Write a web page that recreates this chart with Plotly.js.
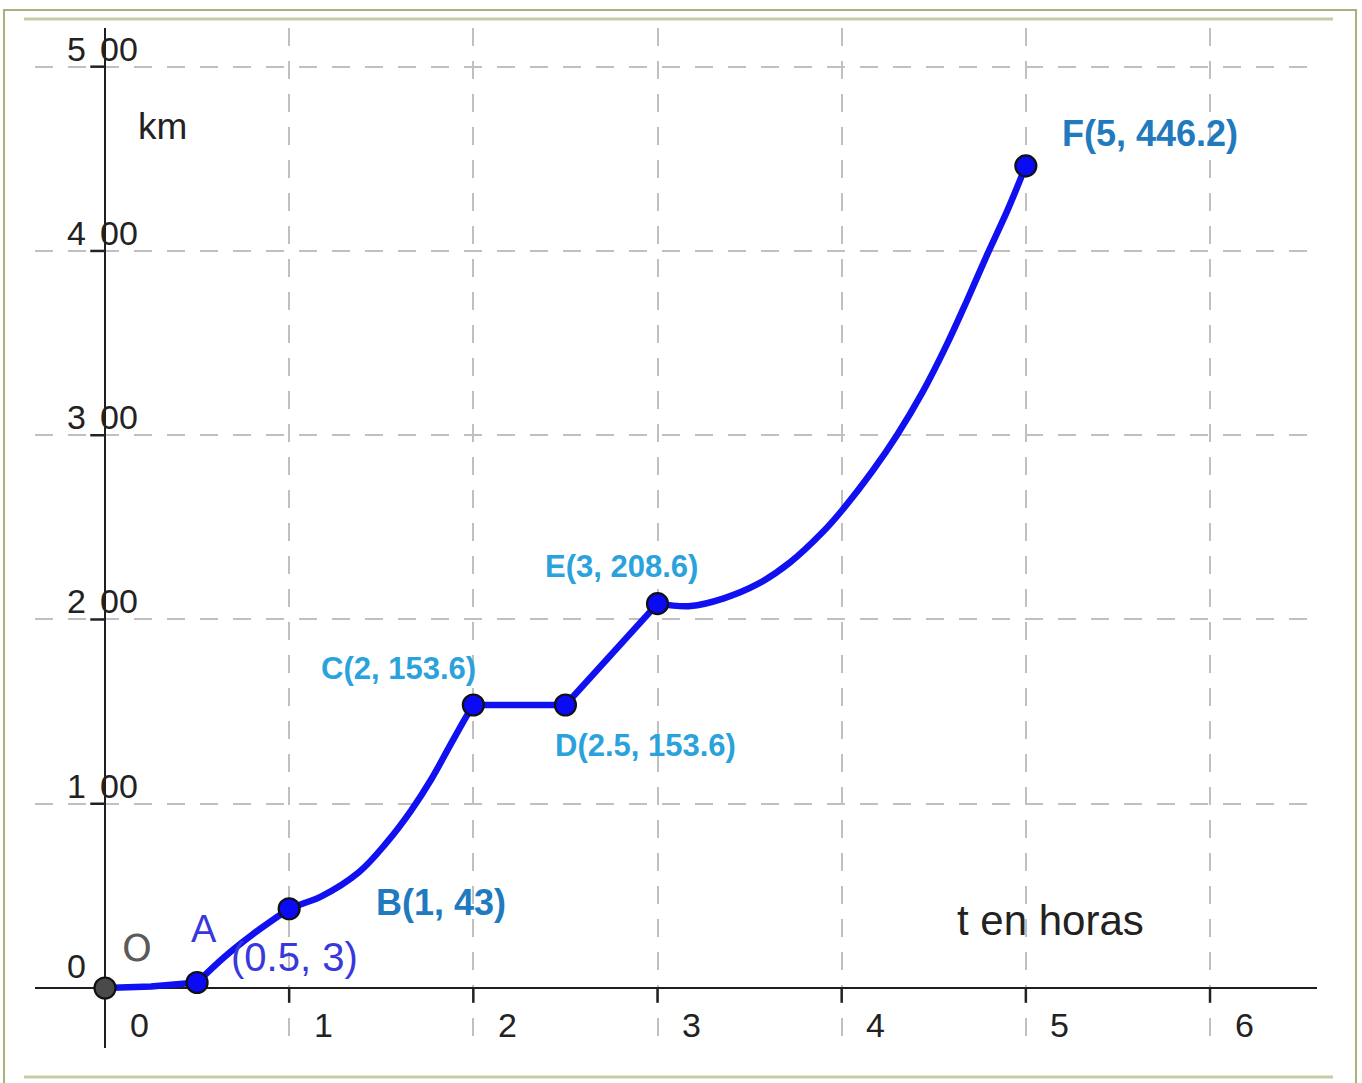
<!DOCTYPE html>
<html>
<head>
<meta charset="utf-8">
<script src="https://cdn.plot.ly/plotly-3.0.1.min.js"></script>
<style>
  html, body { margin: 0; padding: 0; background: #ffffff; }
  #chart { width: 1362px; height: 1083px; }
</style>
</head>
<body>
<div id="chart"></div>
<script>
// ---------- data ----------
const xTicks = [0, 1, 2, 3, 4, 5, 6];
const xTickLabels = ['0', '1', '2', '3', '4', '5', '6'];
const yTicks = [100, 200, 300, 400, 500];
const yTickLead = ['1', '2', '3', '4', '5'];
const yTickTail = ['00', '00', '00', '00', '00'];

// curve segments
const segOA_x = [0, 0.25, 0.5];
const segOA_y = [0, 0.8, 3];
const segAB_x = [0.5, 0.65, 0.8, 1];
const segAB_y = [3, 17, 29, 43];
const segBC_x = [1, 1.08, 1.17, 1.38, 1.53, 1.66, 1.77, 1.87, 1.96, 2];
const segBC_y = [43, 46, 49.5, 63, 79, 96, 113, 131, 147, 153.6];
const segCD_x = [2, 2.5];
const segCD_y = [153.6, 153.6];
const segDE_x = [2.5, 3];
const segDE_y = [153.6, 208.6];
const segEF_x = [3, 3.18, 3.36, 3.54, 3.72, 3.9, 4.0, 4.17, 4.3, 4.44, 4.57, 4.68, 4.79, 4.9, 5];
const segEF_y = [208.6, 207.3, 211.5, 219, 231, 247.7, 259, 281, 300, 323.5, 349, 373, 398, 422, 446.2];

// named points
const ptNames = ['O', 'A', 'B', 'C', 'D', 'E', 'F'];
const ptX = [0, 0.5, 1, 2, 2.5, 3, 5];
const ptY = [0, 3, 43, 153.6, 153.6, 208.6, 446.2];

const xAxisTitle = 't en horas';
const yAxisTitle = 'km';

// ---------- styling ----------
const lineColor = '#1010f0';
const FONT = '"Liberation Sans", Arial, sans-serif';

const segs = [
  [segOA_x, segOA_y, 'linear'],
  [segAB_x, segAB_y, 'spline'],
  [segBC_x, segBC_y, 'spline'],
  [segCD_x, segCD_y, 'linear'],
  [segDE_x, segDE_y, 'linear'],
  [segEF_x, segEF_y, 'spline']
];

const traces = segs.map(s => ({
  type: 'scatter', mode: 'lines', x: s[0], y: s[1],
  line: { color: lineColor, width: 6.5, shape: s[2], smoothing: 1 },
  hoverinfo: 'skip', showlegend: false, cliponaxis: false
}));

traces.push({
  type: 'scatter', mode: 'markers', x: ptX, y: ptY,
  marker: {
    size: 21,
    color: ptNames.map(n => n === 'O' ? '#4a4a4a' : '#0a0af5'),
    line: { color: '#111111', width: 2.2 }
  },
  showlegend: false, cliponaxis: false, hoverinfo: 'skip'
});

// ---------- annotations ----------
const ann = [];
// x tick labels
xTicks.forEach((v, i) => {
  ann.push({ xref: 'x', yref: 'y', x: v, y: 0, text: xTickLabels[i], showarrow: false,
    xanchor: 'center', yanchor: 'middle', xshift: 34, yshift: -37,
    font: { family: FONT, size: 34, color: '#222222' } });
});
// y tick labels (axis line runs through them)
yTicks.forEach((v, i) => {
  ann.push({ xref: 'x', yref: 'y', x: 0, y: v, text: yTickLead[i], showarrow: false,
    xanchor: 'right', yanchor: 'middle', xshift: -17, yshift: 18,
    font: { family: FONT, size: 34, color: '#222222' } });
  ann.push({ xref: 'x', yref: 'y', x: 0, y: v, text: yTickTail[i], showarrow: false,
    xanchor: 'left', yanchor: 'middle', xshift: -7, yshift: 18,
    font: { family: FONT, size: 34, color: '#222222' } });
});
ann.push({ xref: 'x', yref: 'y', x: 0, y: 0, text: '0', showarrow: false,
  xanchor: 'center', yanchor: 'middle', xshift: -29, yshift: 22,
  font: { family: FONT, size: 34, color: '#222222' } });

// axis titles
ann.push({ xref: 'x', yref: 'y', x: 0, y: 500, text: yAxisTitle, showarrow: false,
  xanchor: 'center', yanchor: 'middle', xshift: 57, yshift: -60,
  font: { family: FONT, size: 37, color: '#222222' } });
ann.push({ xref: 'x', yref: 'y', x: 5, y: 0, text: xAxisTitle, showarrow: false,
  xanchor: 'center', yanchor: 'middle', xshift: 25, yshift: 68,
  font: { family: FONT, size: 42, color: '#222222' } });

// point labels
const dark = '#2179be', cyan = '#2aa2dc', violet = '#3838dc';
const lab = (i) => ptNames[i] + '(' + ptX[i] + ', ' + ptY[i] + ')';
ann.push({ xref: 'x', yref: 'y', x: ptX[0], y: ptY[0], text: ptNames[0], showarrow: false,
  xshift: 32, yshift: 40, font: { family: '"DejaVu Sans", sans-serif', size: 38, color: '#5a5a5a' } });
ann.push({ xref: 'x', yref: 'y', x: ptX[1], y: ptY[1], text: ptNames[1], showarrow: false,
  xshift: 7, yshift: 53, font: { family: FONT, size: 38, color: violet } });
ann.push({ xref: 'x', yref: 'y', x: ptX[1], y: ptY[1], text: '(' + ptX[1] + ', ' + ptY[1] + ')', showarrow: false,
  xshift: 97, yshift: 25, font: { family: FONT, size: 40, color: violet } });
ann.push({ xref: 'x', yref: 'y', x: ptX[2], y: ptY[2], text: '<b>' + lab(2) + '</b>', showarrow: false,
  xshift: 152, yshift: 6, font: { family: FONT, size: 36, color: dark } });
ann.push({ xref: 'x', yref: 'y', x: ptX[3], y: ptY[3], text: '<b>' + lab(3) + '</b>', showarrow: false,
  xshift: -75, yshift: 36, font: { family: FONT, size: 31, color: cyan } });
ann.push({ xref: 'x', yref: 'y', x: ptX[4], y: ptY[4], text: '<b>' + lab(4) + '</b>', showarrow: false,
  xshift: 80, yshift: -41, font: { family: FONT, size: 31, color: cyan } });
ann.push({ xref: 'x', yref: 'y', x: ptX[5], y: ptY[5], text: '<b>' + lab(5) + '</b>', showarrow: false,
  xshift: -36, yshift: 37, font: { family: FONT, size: 31, color: cyan } });
ann.push({ xref: 'x', yref: 'y', x: ptX[6], y: ptY[6], text: '<b>' + lab(6) + '</b>', showarrow: false,
  xshift: 124, yshift: 32, font: { family: FONT, size: 36, color: dark } });

// ---------- shapes: tick marks and frame ----------
const shapes = [];
xTicks.filter(v => v !== 0).forEach(v => {
  shapes.push({ type: 'line', xref: 'x', yref: 'y', x0: v, x1: v, y0: 0, y1: -8,
    line: { color: '#222222', width: 2.5 } });
});
yTicks.forEach(v => {
  shapes.push({ type: 'line', xref: 'x', yref: 'y', x0: 0, x1: -0.08, y0: v, y1: v,
    line: { color: '#222222', width: 2.5 } });
});
// frame (paper coords; plot area is 35..1317 px wide, 28..1048 px tall)
const px = (p) => (p - 35) / 1282;
const py = (p) => (1048 - p) / 1020;
shapes.push({ type: 'rect', xref: 'paper', yref: 'paper', x0: px(4), x1: px(1356), y0: py(1100), y1: py(10),
  line: { color: '#a6b47c', width: 2 }, layer: 'below' });
shapes.push({ type: 'line', xref: 'paper', yref: 'paper', x0: px(24), x1: px(1333), y0: py(19), y1: py(19),
  line: { color: '#c6cda4', width: 3 }, layer: 'below' });
shapes.push({ type: 'line', xref: 'paper', yref: 'paper', x0: px(24), x1: px(1333), y0: py(1077), y1: py(1077),
  line: { color: '#c6cda4', width: 3 }, layer: 'below' });

const layout = {
  width: 1362, height: 1083,
  margin: { l: 35, r: 45, t: 28, b: 35, pad: 0 },
  paper_bgcolor: '#ffffff', plot_bgcolor: '#ffffff',
  showlegend: false,
  xaxis: {
    range: [-0.3801, 6.5809], tickvals: xTicks, showticklabels: false, ticks: '',
    showgrid: true, gridcolor: '#c0c0c0', gridwidth: 2, griddash: '18px,15px',
    zeroline: true, zerolinecolor: '#1e1e1e', zerolinewidth: 2.5,
    showline: false, fixedrange: true
  },
  yaxis: {
    range: [-32.56, 521.0], tickvals: [0].concat(yTicks), showticklabels: false, ticks: '',
    showgrid: true, gridcolor: '#c0c0c0', gridwidth: 2, griddash: '18px,15px',
    zeroline: true, zerolinecolor: '#1e1e1e', zerolinewidth: 2.5,
    showline: false, fixedrange: true
  },
  annotations: ann,
  shapes: shapes
};

Plotly.newPlot('chart', traces, layout, { displayModeBar: false, staticPlot: true });
</script>
</body>
</html>
